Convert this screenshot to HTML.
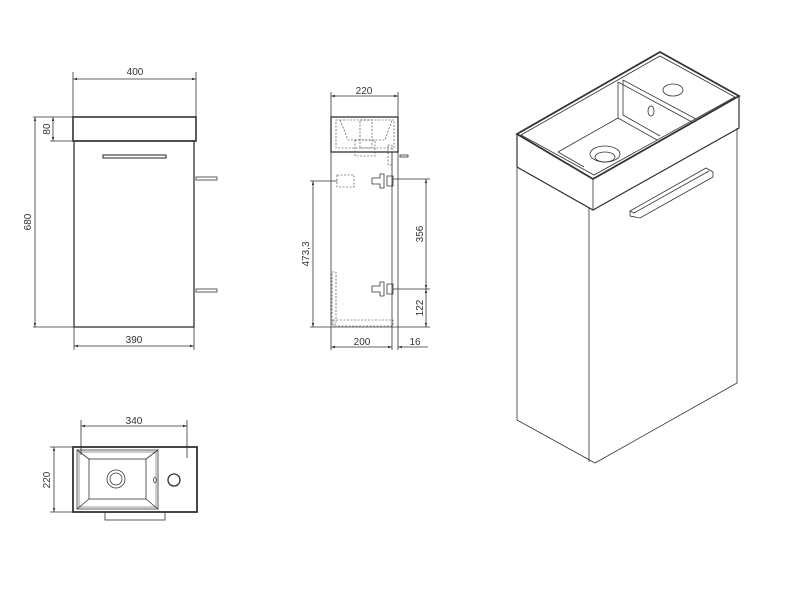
<!DOCTYPE html>
<html><head><meta charset="utf-8"><style>
html,body{margin:0;padding:0;background:#fff;width:800px;height:600px;overflow:hidden}
svg{display:block}
text{font-family:"Liberation Sans",sans-serif;font-size:10px;fill:#333}
</style></head><body>
<svg width="800" height="600" viewBox="0 0 800 600" xmlns="http://www.w3.org/2000/svg">
<defs><marker id="a" viewBox="0 0 10 10" refX="10" refY="5" markerWidth="5" markerHeight="5" orient="auto-start-reverse"><path d="M0,2 L10,5 L0,8z" fill="#333"/></marker></defs>
<g stroke="#333" stroke-width="0.8" fill="none">
<!-- FRONT VIEW -->
<line x1="73" y1="72" x2="73" y2="117"/><line x1="196" y1="72" x2="196" y2="117"/>
<line x1="73" y1="79" x2="196" y2="79" marker-start="url(#a)" marker-end="url(#a)"/>
<rect x="73" y="117" width="123" height="24" stroke-width="1.6"/>
<rect x="74" y="141" width="120" height="186" stroke-width="1.3"/>
<rect x="103" y="155" width="63" height="3" stroke-width="1.1"/>
<rect x="196" y="177" width="21" height="3"/><rect x="196" y="289" width="21" height="3"/>
<line x1="33" y1="117" x2="73" y2="117"/><line x1="33" y1="327" x2="74" y2="327"/>
<line x1="50" y1="141" x2="73" y2="141"/>
<line x1="53" y1="117" x2="53" y2="141" marker-start="url(#a)" marker-end="url(#a)"/>
<line x1="35" y1="117" x2="35" y2="327" marker-start="url(#a)" marker-end="url(#a)"/>
<line x1="74" y1="327" x2="74" y2="350"/><line x1="194" y1="327" x2="194" y2="350"/>
<line x1="74" y1="346" x2="194" y2="346" marker-start="url(#a)" marker-end="url(#a)"/>
<!-- SIDE VIEW -->
<line x1="331" y1="92" x2="331" y2="117"/><line x1="398" y1="92" x2="398" y2="117"/>
<line x1="331" y1="96" x2="398" y2="96" marker-start="url(#a)" marker-end="url(#a)"/>
<rect x="331" y="117" width="67" height="35" stroke-width="1.3"/>
<line x1="331" y1="152" x2="331" y2="327"/><line x1="392" y1="152" x2="392" y2="327"/><line x1="398" y1="152" x2="398" y2="327"/>
<line x1="331" y1="327" x2="398" y2="327"/>
<g stroke-dasharray="2,1.5" stroke-width="0.6">
<rect x="336" y="120" width="58" height="28"/><path d="M340,120 L348,140 L385,140 L392,120"/>
<rect x="360" y="120" width="12" height="28"/><rect x="355" y="140" width="20" height="16"/>
<rect x="337" y="175" width="17" height="12"/><rect x="332" y="272" width="4" height="52"/>
<rect x="333" y="320" width="60" height="6"/><rect x="388" y="145" width="4" height="20"/>
</g>
<rect x="400" y="155" width="8" height="2"/>
<path d="M372,178 h8 v-4 h4 v14 h-4 v-4 h-8z M387,176 h6 v10 h-6z"/>
<path d="M372,286 h8 v-4 h4 v14 h-4 v-4 h-8z M387,284 h6 v10 h-6z"/>
<line x1="310" y1="181" x2="337" y2="181"/><line x1="310" y1="327" x2="331" y2="327"/>
<line x1="313" y1="181" x2="313" y2="327" marker-start="url(#a)" marker-end="url(#a)"/>
<line x1="393" y1="179" x2="430" y2="179"/><line x1="393" y1="289" x2="430" y2="289"/><line x1="398" y1="327" x2="430" y2="327"/>
<line x1="426" y1="179" x2="426" y2="289" marker-start="url(#a)" marker-end="url(#a)"/>
<line x1="426" y1="289" x2="426" y2="327" marker-start="url(#a)" marker-end="url(#a)"/>
<line x1="331" y1="327" x2="331" y2="350"/><line x1="392" y1="327" x2="392" y2="350"/><line x1="398" y1="327" x2="398" y2="350"/>
<line x1="331" y1="347" x2="392" y2="347" marker-start="url(#a)" marker-end="url(#a)"/>
<line x1="398" y1="347" x2="428" y2="347" marker-start="url(#a)"/>
<!-- TOP VIEW -->
<line x1="81" y1="420" x2="81" y2="455"/><line x1="187" y1="420" x2="187" y2="458"/>
<line x1="81" y1="426" x2="187" y2="426" marker-start="url(#a)" marker-end="url(#a)"/>
<rect x="73" y="447" width="124" height="65" stroke-width="1.8"/>
<rect x="77" y="450" width="81" height="59"/>
<rect x="89" y="459" width="57" height="40"/>
<path d="M77,450 L89,459 M158,450 L146,459 M77,509 L89,499 M158,509 L146,499"/>
<rect x="79" y="452" width="77" height="55" stroke-width="0.5"/>
<circle cx="116" cy="479" r="9"/><circle cx="116" cy="479" r="6"/>
<circle cx="174" cy="480" r="6" stroke-width="1.3"/>
<ellipse cx="155" cy="480" rx="1.5" ry="2.5"/>
<rect x="105" y="512" width="60" height="8"/>
<line x1="50" y1="447" x2="73" y2="447"/><line x1="50" y1="512" x2="73" y2="512"/>
<line x1="54" y1="447" x2="54" y2="512" marker-start="url(#a)" marker-end="url(#a)"/>
<!-- ISO VIEW -->
<path d="M517,134 L660,52 L739,96 L593,179 Z" stroke-width="1.8"/>
<path d="M521,135 L660,56 L735,97 L594,175 Z"/>
<path d="M517,134 L517,167 L593,210 L739,128 L739,96" stroke-width="1.2"/>
<line x1="593" y1="179" x2="593" y2="210"/>
<path d="M517,167 L517,420 L595,463 L737,383 L737,128"/>
<line x1="589" y1="208" x2="589" y2="462"/>
<path d="M618,82 L618,118 L558,152"/>
<path d="M618,118 L657,140"/>
<path d="M618,82 L692,122"/>
<path d="M623,80 L623,115 L660,136"/>
<path d="M623,80 L696,119"/>
<path d="M558,152 L584,167"/>
<ellipse cx="605" cy="154" rx="15" ry="8"/><ellipse cx="605" cy="157" rx="10" ry="5"/>
<ellipse cx="673" cy="90" rx="10" ry="6"/>
<ellipse cx="651" cy="111" rx="3" ry="5"/>
<path d="M630,211 L706,168 L713,172 L713,177 L640,218 L630,216 Z"/>
<path d="M630,211 L634,213 L709,171"/>
</g>
<text x="135" y="75" text-anchor="middle">400</text>
<text transform="translate(50,129) rotate(-90)" text-anchor="middle">80</text>
<text transform="translate(31,222) rotate(-90)" text-anchor="middle">680</text>
<text x="134" y="343" text-anchor="middle">390</text>
<text x="364" y="94" text-anchor="middle">220</text>
<text transform="translate(309,254) rotate(-90)" text-anchor="middle">473,3</text>
<text transform="translate(423,234) rotate(-90)" text-anchor="middle">356</text>
<text transform="translate(423,308) rotate(-90)" text-anchor="middle">122</text>
<text x="362" y="345" text-anchor="middle">200</text>
<text x="415" y="345" text-anchor="middle">16</text>
<text x="134" y="424" text-anchor="middle">340</text>
<text transform="translate(50,480) rotate(-90)" text-anchor="middle">220</text>
</svg>
</body></html>
